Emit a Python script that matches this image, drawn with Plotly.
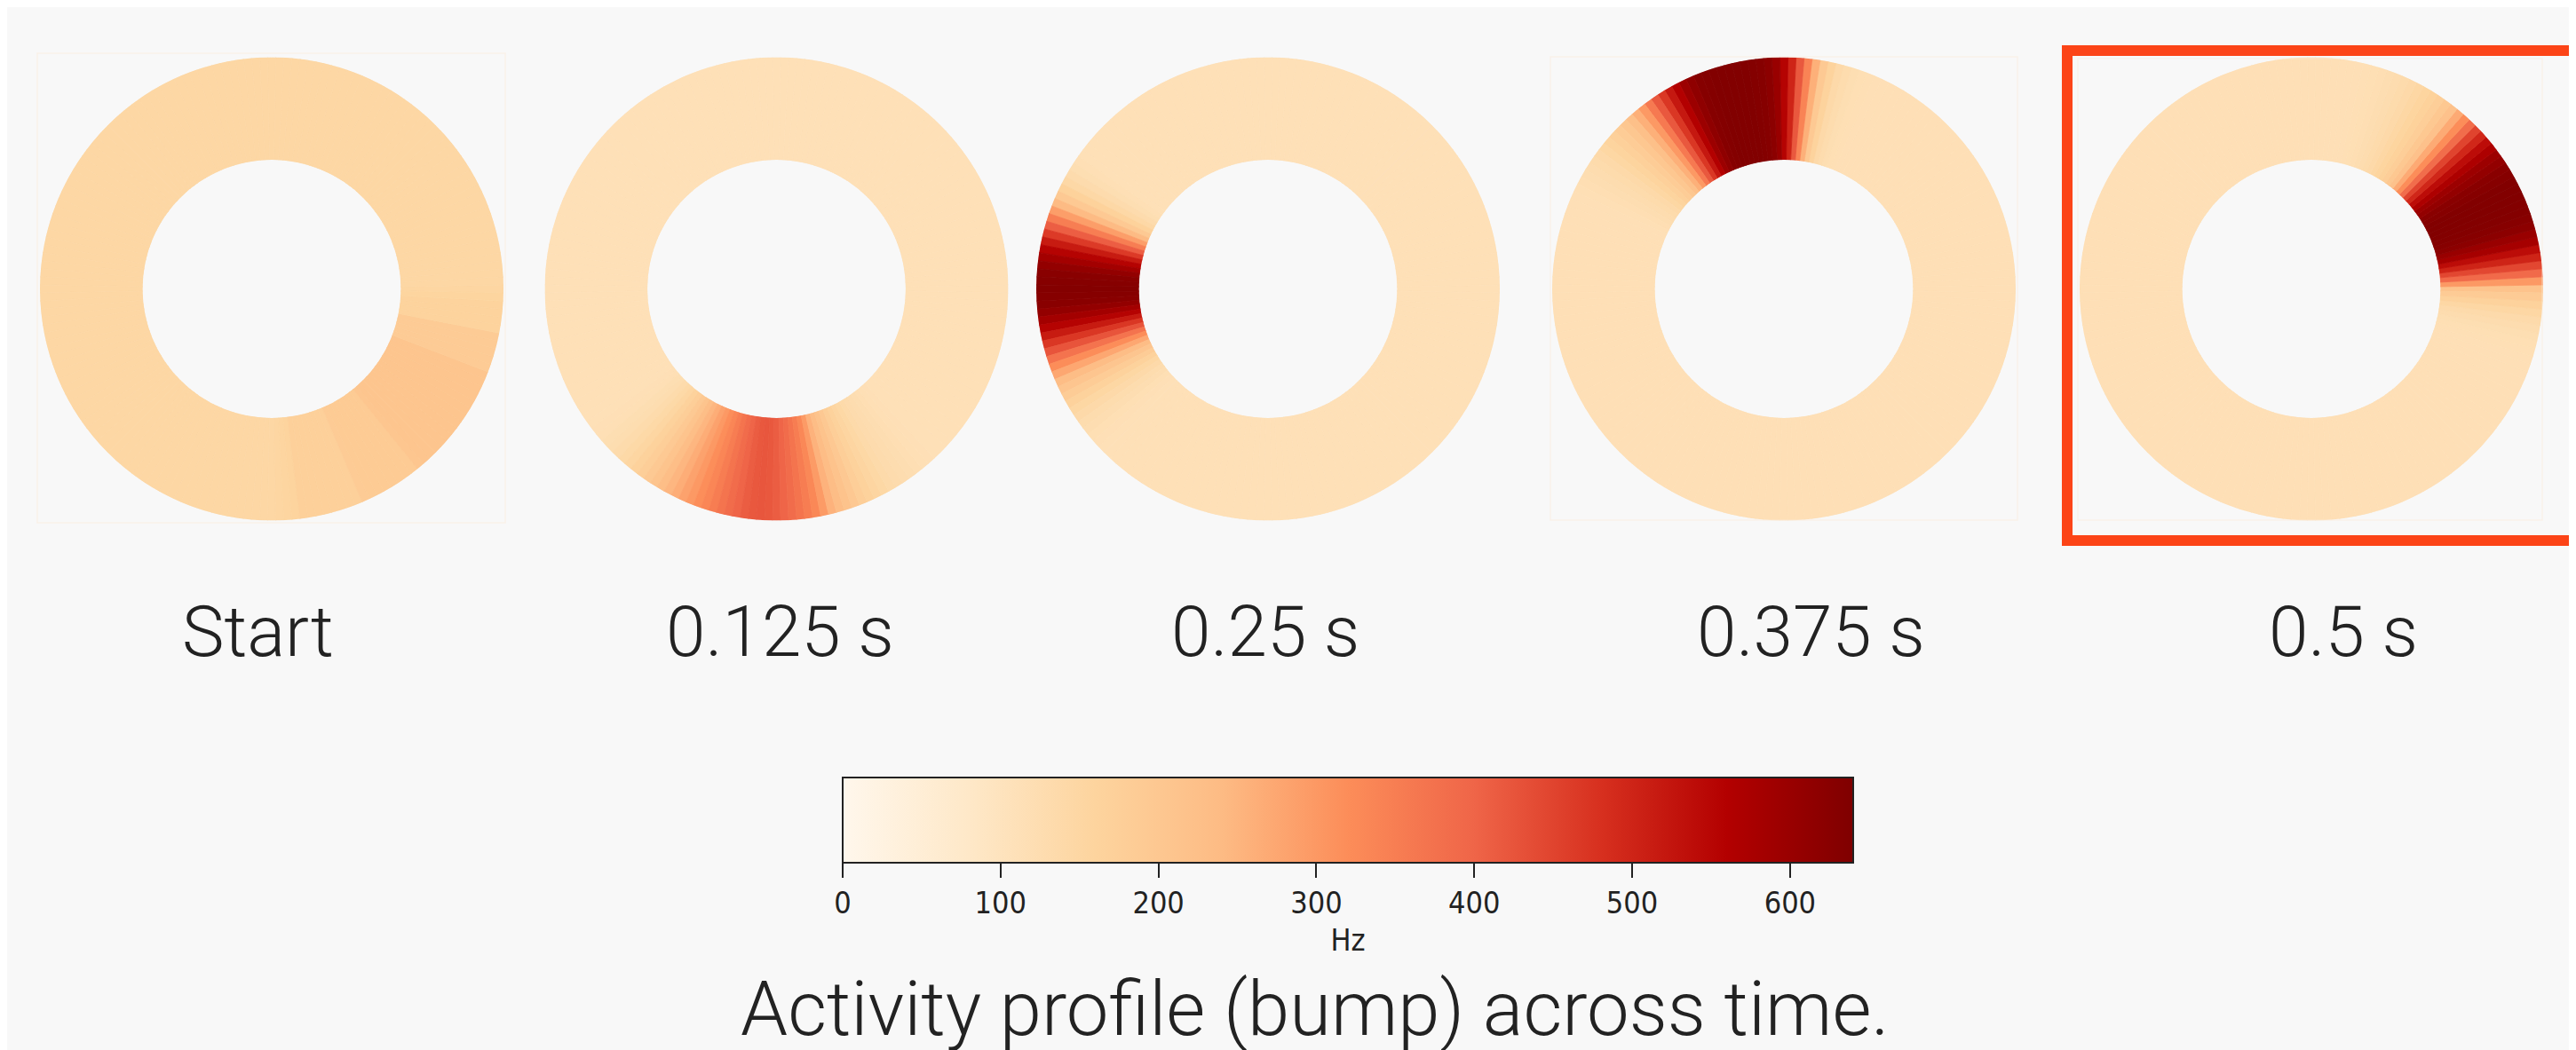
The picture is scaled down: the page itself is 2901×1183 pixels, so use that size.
import plotly.graph_objects as go

# ---------------- data ----------------
time_labels = ["Start", "0.125 s", "0.25 s", "0.375 s", "0.5 s"]

# preferred direction of each neuron (degrees, counter-clockwise from east)
neuron_angle_deg = [
    0, 2, 4, 6, 8, 10, 12, 14, 16, 18,
    20, 22, 24, 26, 28, 30, 32, 34, 36, 38,
    40, 42, 44, 46, 48, 50, 52, 54, 56, 58,
    60, 62, 64, 66, 68, 70, 72, 74, 76, 78,
    80, 82, 84, 86, 88, 90, 92, 94, 96, 98,
    100, 102, 104, 106, 108, 110, 112, 114, 116, 118,
    120, 122, 124, 126, 128, 130, 132, 134, 136, 138,
    140, 142, 144, 146, 148, 150, 152, 154, 156, 158,
    160, 162, 164, 166, 168, 170, 172, 174, 176, 178,
    180, 182, 184, 186, 188, 190, 192, 194, 196, 198,
    200, 202, 204, 206, 208, 210, 212, 214, 216, 218,
    220, 222, 224, 226, 228, 230, 232, 234, 236, 238,
    240, 242, 244, 246, 248, 250, 252, 254, 256, 258,
    260, 262, 264, 266, 268, 270, 272, 274, 276, 278,
    280, 282, 284, 286, 288, 290, 292, 294, 296, 298,
    300, 302, 304, 306, 308, 310, 312, 314, 316, 318,
    320, 322, 324, 326, 328, 330, 332, 334, 336, 338,
    340, 342, 344, 346, 348, 350, 352, 354, 356, 358,
]

# firing rate (Hz) of each neuron at each time
rate_start = [
    152, 148, 148, 148, 148, 148, 148, 148, 148, 148,
    148, 148, 148, 148, 148, 148, 148, 148, 148, 148,
    148, 148, 148, 148, 148, 148, 148, 148, 148, 148,
    148, 148, 148, 148, 148, 148, 148, 148, 148, 148,
    148, 148, 148, 148, 148, 148, 148, 148, 148, 148,
    148, 148, 148, 148, 148, 148, 148, 148, 148, 148,
    148, 148, 148, 148, 148, 148, 148, 148, 148, 148,
    148, 148, 148, 148, 148, 148, 148, 148, 148, 148,
    148, 148, 148, 148, 148, 148, 148, 148, 148, 148,
    148, 148, 148, 148, 148, 148, 148, 148, 148, 148,
    148, 148, 148, 148, 148, 148, 148, 148, 148, 148,
    148, 148, 148, 148, 148, 148, 148, 148, 148, 148,
    148, 148, 148, 148, 148, 148, 148, 148, 148, 148,
    148, 148, 148, 148, 148, 148, 152, 156, 160, 172,
    172, 172, 172, 172, 172, 172, 172, 188, 190, 190,
    190, 190, 190, 190, 190, 205, 208, 208, 208, 208,
    208, 208, 208, 208, 208, 208, 208, 208, 208, 208,
    188, 188, 188, 188, 188, 162, 162, 162, 162, 158,
]
rate_0125 = [
    112, 112, 112, 112, 112, 112, 112, 112, 112, 112,
    112, 112, 112, 112, 112, 112, 112, 112, 112, 112,
    112, 112, 112, 112, 112, 112, 112, 112, 112, 112,
    112, 112, 112, 112, 112, 112, 112, 112, 112, 112,
    112, 112, 112, 112, 112, 112, 112, 112, 112, 112,
    112, 112, 112, 112, 112, 112, 112, 112, 112, 112,
    112, 112, 112, 112, 112, 112, 112, 112, 112, 112,
    112, 112, 112, 112, 112, 112, 112, 112, 112, 112,
    112, 112, 112, 112, 112, 112, 112, 112, 112, 112,
    112, 112, 112, 112, 112, 112, 112, 112, 112, 112,
    112, 112, 112, 112, 112, 112, 112, 112, 112, 114,
    117, 121, 126, 133, 142, 152, 165, 180, 195, 212,
    230, 248, 265, 283, 300, 318, 335, 352, 370, 386,
    400, 412, 420, 422, 420, 412, 400, 386, 370, 352,
    330, 295, 255, 235, 215, 197, 180, 167, 155, 146,
    138, 132, 128, 124, 120, 117, 115, 113, 112, 112,
    112, 112, 112, 112, 112, 112, 112, 112, 112, 112,
    112, 112, 112, 112, 112, 112, 112, 112, 112, 112,
]
rate_025 = [
    112, 112, 112, 112, 112, 112, 112, 112, 112, 112,
    112, 112, 112, 112, 112, 112, 112, 112, 112, 112,
    112, 112, 112, 112, 112, 112, 112, 112, 112, 112,
    112, 112, 112, 112, 112, 112, 112, 112, 112, 112,
    112, 112, 112, 112, 112, 112, 112, 112, 112, 112,
    112, 112, 112, 112, 112, 112, 112, 112, 112, 112,
    112, 112, 112, 112, 112, 112, 112, 112, 112, 112,
    112, 112, 113, 117, 122, 132, 145, 168, 195, 240,
    290, 350, 410, 465, 515, 555, 585, 610, 625, 630,
    632, 630, 625, 610, 585, 555, 515, 470, 425, 372,
    320, 275, 235, 207, 185, 166, 150, 139, 130, 123,
    118, 114, 112, 112, 112, 112, 112, 112, 112, 112,
    112, 112, 112, 112, 112, 112, 112, 112, 112, 112,
    112, 112, 112, 112, 112, 112, 112, 112, 112, 112,
    112, 112, 112, 112, 112, 112, 112, 112, 112, 112,
    112, 112, 112, 112, 112, 112, 112, 112, 112, 112,
    112, 112, 112, 112, 112, 112, 112, 112, 112, 112,
    112, 112, 112, 112, 112, 112, 112, 112, 112, 112,
]
rate_0375 = [
    114, 114, 114, 114, 114, 114, 114, 114, 114, 114,
    114, 114, 114, 114, 114, 114, 114, 114, 114, 114,
    114, 114, 114, 114, 114, 114, 114, 114, 114, 114,
    114, 114, 114, 114, 116, 118, 122, 129, 140, 162,
    195, 260, 340, 420, 500, 555, 600, 620, 630, 633,
    635, 635, 635, 635, 635, 633, 630, 615, 595, 560,
    520, 470, 420, 360, 300, 260, 225, 203, 185, 172,
    160, 150, 140, 134, 128, 124, 120, 117, 114, 114,
    114, 114, 114, 114, 114, 114, 114, 114, 114, 114,
    114, 114, 114, 114, 114, 114, 114, 114, 114, 114,
    114, 114, 114, 114, 114, 114, 114, 114, 114, 114,
    114, 114, 114, 114, 114, 114, 114, 114, 114, 114,
    114, 114, 114, 114, 114, 114, 114, 114, 114, 114,
    114, 114, 114, 114, 114, 114, 114, 114, 114, 114,
    114, 114, 114, 114, 114, 114, 114, 114, 114, 114,
    114, 114, 114, 114, 114, 114, 114, 114, 114, 114,
    114, 114, 114, 114, 114, 114, 114, 114, 114, 114,
    114, 114, 114, 114, 114, 114, 114, 114, 114, 114,
]
rate_05 = [
    215, 300, 390, 445, 500, 540, 580, 600, 620, 627,
    632, 634, 635, 635, 635, 630, 625, 610, 595, 570,
    540, 495, 450, 385, 320, 270, 220, 200, 180, 168,
    158, 149, 140, 134, 128, 124, 120, 118, 116, 115,
    114, 114, 114, 114, 114, 114, 114, 114, 114, 114,
    114, 114, 114, 114, 114, 114, 114, 114, 114, 114,
    114, 114, 114, 114, 114, 114, 114, 114, 114, 114,
    114, 114, 114, 114, 114, 114, 114, 114, 114, 114,
    114, 114, 114, 114, 114, 114, 114, 114, 114, 114,
    114, 114, 114, 114, 114, 114, 114, 114, 114, 114,
    114, 114, 114, 114, 114, 114, 114, 114, 114, 114,
    114, 114, 114, 114, 114, 114, 114, 114, 114, 114,
    114, 114, 114, 114, 114, 114, 114, 114, 114, 114,
    114, 114, 114, 114, 114, 114, 114, 114, 114, 114,
    114, 114, 114, 114, 114, 114, 114, 114, 114, 114,
    114, 114, 114, 114, 114, 114, 114, 114, 114, 114,
    114, 114, 114, 114, 114, 114, 114, 114, 114, 114,
    114, 115, 116, 118, 122, 128, 135, 148, 165, 188,
]
rates = [rate_start, rate_0125, rate_025, rate_0375, rate_05]

colorbar_ticks = [0, 100, 200, 300, 400, 500, 600]
rate_min, rate_max = 0, 640

# ---------------- layout geometry (pixels) ----------------
W, H = 2901, 1183
ring_cx = [298, 866.5, 1420, 2001, 2595]
ring_cy = 317.5
ring_R = 261
hole_frac = 0.557
label_cx = [282, 870, 1417, 2031, 2631]
label_baseline = 733
label_size = 80
caption_size = 85
caption_baseline = 1160
text_font = "Roboto, 'Liberation Sans', Arial, sans-serif"
cb_font = "'DejaVu Sans Condensed', 'DejaVu Sans'"

fig = go.Figure()

for k, vals in enumerate(rates):
    pid = "polar" if k == 0 else f"polar{k+1}"
    trace = go.Barpolar(
        r=[1 for _ in vals],
        theta=neuron_angle_deg,
        width=2,
        marker=dict(
            color=vals,
            colorscale="OrRd",
            cmin=rate_min,
            cmax=rate_max,
            showscale=(k == 0),
            line=dict(width=0.8, color=vals, colorscale="OrRd",
                      cmin=rate_min, cmax=rate_max),
        ),
        subplot=pid,
        hoverinfo="skip",
    )
    if k == 0:
        trace.marker.colorbar = dict(
            orientation="h",
            x=1510 / W, xanchor="center",
            y=1 - 868 / H, yanchor="top",
            len=1138, lenmode="pixels",
            thickness=96, thicknessmode="pixels",
            xpad=0, ypad=0,
            outlinewidth=2, outlinecolor="#222222",
            ticks="outside", ticklen=16, tickwidth=2, tickcolor="#222222",
            tickvals=colorbar_ticks,
            tickfont=dict(family=cb_font, size=34, color="#222222"),
            title=dict(text="Hz", side="bottom",
                       font=dict(family=cb_font, size=34, color="#222222")),
        )
    fig.add_trace(trace)

    cx = ring_cx[k]
    fig.layout[pid] = dict(
        domain=dict(x=[(cx - ring_R) / W, (cx + ring_R) / W],
                    y=[1 - (ring_cy + ring_R) / H, 1 - (ring_cy - ring_R) / H]),
        hole=hole_frac,
        bargap=0,
        bgcolor="rgba(0,0,0,0)",
        radialaxis=dict(visible=False, range=[0, 1]),
        angularaxis=dict(visible=False, rotation=0, direction="counterclockwise"),
    )

# time labels
for lab, lx in zip(time_labels, label_cx):
    fig.add_annotation(
        x=lx / W, y=1 - (label_baseline - 0.36 * label_size) / H,
        xref="paper", yref="paper", xanchor="center", yanchor="middle",
        text=lab, showarrow=False,
        font=dict(family=text_font, size=label_size, color="#222222", weight=300),
    )

# caption
fig.add_annotation(
    x=1473 / W, y=1 - (caption_baseline - 0.36 * caption_size) / H,
    xref="paper", yref="paper", xanchor="center", yanchor="middle",
    text="Activity profile (bump) across time.", showarrow=False,
    font=dict(family=text_font, size=caption_size, color="#222222", weight=300),
)

# faint subplot frames
frames = [(34, 52, 561, 581), (1738, 56, 2264, 578), (2332, 58, 2855, 578)]
for x0, y0, x1, y1 in frames:
    fig.add_shape(type="rect", xref="paper", yref="paper",
                  x0=x0 / W, x1=x1 / W, y0=1 - y1 / H, y1=1 - y0 / H,
                  line=dict(color="rgba(250,232,214,0.45)", width=1.5))

# red highlight box around the last frame
fig.add_shape(type="rect", xref="paper", yref="paper",
              x0=2320 / W, x1=2895 / W, y0=1 - 601 / H, y1=1 - 49 / H,
              line=dict(color="#fc4417", width=12))

fig.update_layout(
    width=W, height=H,
    margin=dict(l=0, r=0, t=0, b=0),
    paper_bgcolor="#f8f8f8",
    plot_bgcolor="#f8f8f8",
    showlegend=False,
)

fig.write_html("out.html")
